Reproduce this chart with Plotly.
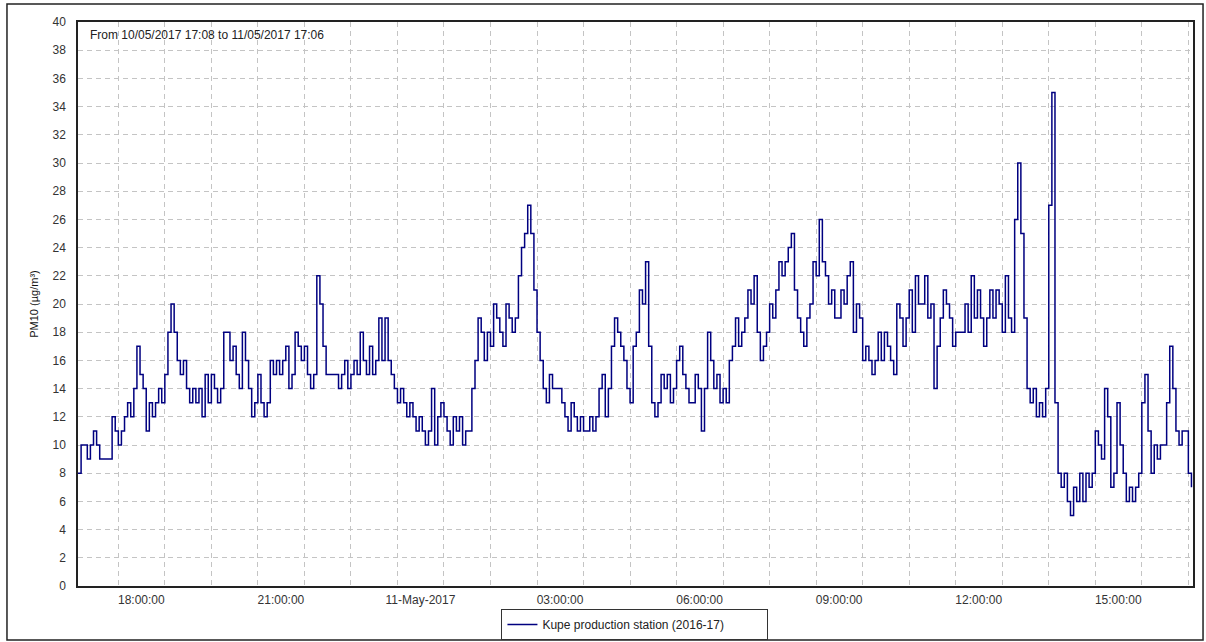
import pandas as pd
import plotly.graph_objects as go

# ---------------- data ----------------
start_time = "2017-05-10 17:08"
end_time = "2017-05-11 17:06"
step_minutes = 4
series_name = "Kupe production station (2016-17)"
title_text = "From 10/05/2017 17:08 to 11/05/2017 17:06"
y_title = "PM10 (µg/m³)"

pm10 = [
    8, 10, 10, 9, 10, 11, 10, 9, 9, 9,
    9, 12, 11, 10, 11, 12, 13, 12, 14, 17,
    15, 14, 11, 13, 12, 13, 14, 13, 15, 18,
    20, 18, 16, 15, 16, 14, 13, 14, 13, 14,
    12, 15, 13, 15, 14, 13, 14, 18, 18, 16,
    17, 15, 14, 18, 16, 14, 12, 13, 15, 13,
    12, 13, 16, 15, 16, 15, 16, 17, 14, 15,
    18, 17, 16, 17, 15, 14, 15, 22, 20, 17,
    15, 15, 15, 15, 14, 15, 16, 14, 15, 16,
    15, 18, 16, 15,
    17, 15, 16, 19, 16, 19,
    16, 15, 14, 13, 14, 13, 12, 13, 12, 11,
    12, 11, 10, 11, 14, 10, 12, 13, 12, 11,
    10, 12, 11, 12, 10, 11, 11, 14, 16, 19,
    18, 16, 18, 17, 20, 19, 18, 17, 20, 19,
    18, 19, 22, 24, 25, 27, 25, 21, 18, 16,
    14, 13, 15, 14, 14, 14, 13, 12, 11, 13,
    12, 11, 12, 11, 11, 12, 11, 12, 14, 15,
    12, 14, 17, 19, 18, 17, 16, 14, 13, 17, 18,
    21, 20, 23, 17, 13, 12, 13, 15, 14,
    15, 13, 14, 16, 17, 15, 14, 13, 13, 15,
    14, 11, 14, 18, 16, 14, 15, 13, 14, 13,
    16, 17, 19, 17, 18, 19, 21, 20, 22, 18,
    16, 17, 18, 20, 19, 21, 23, 22, 23, 24,
    25, 21, 19, 18, 17, 19, 20, 23, 22, 26,
    23, 22, 20, 21, 19, 19, 21, 20, 22, 23,
    18, 20, 19, 16, 17, 16, 15, 16, 18, 16,
    18, 17, 16, 15, 20, 19, 17, 19, 21, 18,
    22, 20,
    20, 22, 19, 20, 14, 17, 19, 21,
    20, 19, 17, 18, 18, 18, 20, 18, 22, 19,
    21, 19, 17, 19, 21, 19, 21, 20, 18, 22,
    19, 18, 26, 30, 25, 19, 14, 13, 14, 12,
    13, 12, 14, 27, 35, 13, 8, 7, 8, 6,
    5, 7, 6, 8, 6, 8, 7, 8, 11, 10,
    9, 14, 12, 7, 8, 13, 10, 8, 6, 7,
    6, 7, 8, 13, 15, 11, 8, 10, 9, 10,
    10, 13, 17, 14, 11, 10, 11, 11, 8, 7,
]

tick_times = [
    "2017-05-10 18:00", "2017-05-10 21:00", "2017-05-11 00:00", "2017-05-11 03:00",
    "2017-05-11 06:00", "2017-05-11 09:00", "2017-05-11 12:00", "2017-05-11 15:00",
]
tick_labels = ["18:00:00", "21:00:00", "11-May-2017", "03:00:00",
               "06:00:00", "09:00:00", "12:00:00", "15:00:00"]
y_ticks = list(range(0, 41, 2))

times = pd.date_range(start_time, periods=len(pm10), freq=f"{step_minutes}min")

# ---------------- figure ----------------
FONT = "Liberation Sans, Arial, sans-serif"
GRID = "#c4c4c4"
GDASH = "5px,4px"

fig = go.Figure()
fig.add_trace(go.Scatter(
    x=times, y=pm10, mode="lines", name=series_name,
    line=dict(color="#000080", width=1.5, shape="hv"),
    showlegend=True,
))

fig.update_layout(
    width=1206, height=642, autosize=False,
    margin=dict(l=78, r=13, t=22, b=56, autoexpand=False),
    paper_bgcolor="white", plot_bgcolor="white",
    font=dict(family=FONT, size=12, color="#333333"),
    showlegend=True,
    legend=dict(
        orientation="h", x=0.4995, xanchor="center", y=-0.041, yanchor="top",
        bordercolor="#333333", borderwidth=1, bgcolor="white",
        entrywidth=220, entrywidthmode="pixels",
        font=dict(family=FONT, size=12, color="#222222"),
    ),
    xaxis=dict(
        type="date", range=[start_time, end_time], automargin=False,
        tickmode="array", tickvals=tick_times, ticktext=tick_labels,
        ticks="", ticklabelshift=23, ticklabelstandoff=2,
        tickfont=dict(family=FONT, size=12, color="#333333"),
        showline=True, linecolor="#222222", linewidth=1.5, mirror=True,
        showgrid=True, gridcolor=GRID, gridwidth=1, griddash=GDASH,
        minor=dict(dtick=3600000, showgrid=True, gridcolor=GRID,
                   gridwidth=1, griddash=GDASH, ticks=""),
        zeroline=False, fixedrange=True,
    ),
    yaxis=dict(
        range=[0, 40], tickmode="array", tickvals=y_ticks, automargin=False,
        ticks="", ticklabelstandoff=8,
        tickfont=dict(family=FONT, size=12, color="#333333"),
        showline=True, linecolor="#222222", linewidth=1.5, mirror=True,
        showgrid=True, gridcolor=GRID, gridwidth=1, griddash=GDASH,
        zeroline=False, fixedrange=True,
        title=dict(text=y_title, standoff=12,
                   font=dict(family=FONT, size=11, color="#111111")),
    ),
    annotations=[dict(
        text=title_text, xref="paper", yref="paper", x=0.009, y=0.977,
        xanchor="left", yanchor="middle", showarrow=False,
        font=dict(family=FONT, size=12, color="#222222"),
    )],
    shapes=[dict(
        type="rect", xref="paper", yref="paper",
        x0=-0.0637, x1=1.009, y0=-0.0957, y1=1.032,
        line=dict(color="#222222", width=1.5), fillcolor="rgba(0,0,0,0)",
        layer="above",
    )],
)

fig.write_html(
    "out.html",
    config={"displayModeBar": False},
    post_script="document.body.style.margin='0';document.body.style.overflow='hidden';",
)
